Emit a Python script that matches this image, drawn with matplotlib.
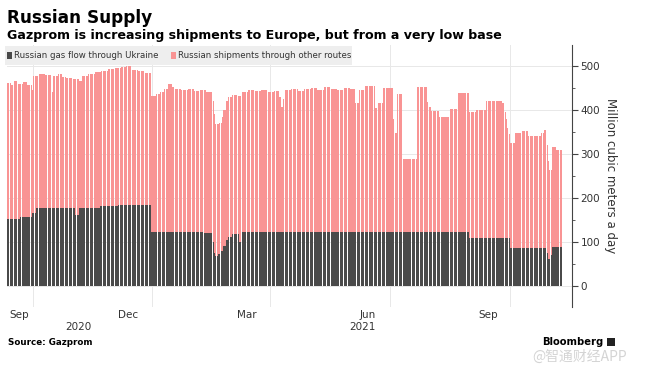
import numpy as np
import pandas as pd
import matplotlib
matplotlib.use("Agg")
import matplotlib.pyplot as plt
import matplotlib.transforms as mtransforms
from matplotlib.patches import Rectangle
from matplotlib.ticker import MultipleLocator

# daily data, stored as runs: level (million m3/day) and number of days it lasts
start_date = "2020-08-13"

ukraine_level = [153, 157, 165, 177, 161, 177, 181, 183,
                 123, 122, 120, 100, 75, 68, 72, 80, 90, 105, 112, 118, 100,
                 122, 123, 122, 109, 86, 75, 62, 70, 89]
ukraine_days = [10, 9, 3, 30, 3, 16, 14, 25,
                20, 20, 7, 1, 1, 2, 2, 2, 2, 2, 3, 5, 2,
                60, 60, 54, 31, 28, 1, 2, 1, 8]

total_level = [462, 458, 465, 460, 463, 457, 445, 478, 482, 479, 441, 478, 482, 476,
               473, 470, 465, 478, 483, 486, 489, 493, 495, 498, 500, 492, 488, 485,
               432, 436, 440, 448, 460, 452, 447, 445, 448, 444, 445, 441,
               420, 390, 368, 370, 385, 400, 420, 430, 434, 432,
               441, 445, 443, 445, 440, 444, 430, 408, 425,
               445, 448, 443, 447, 450, 446, 452, 449, 445, 450, 448,
               415, 445, 455, 405, 415, 450, 380, 348, 436, 289, 453, 418, 408,
               398, 385, 402, 438, 396, 400, 420, 415, 395, 380, 360, 345,
               325, 348, 352, 340, 348, 355, 320, 285, 264, 316, 310]
total_days = [3, 2, 3, 4, 3, 4, 1, 4, 5, 5, 1, 4, 3, 3,
              5, 5, 2, 5, 5, 5, 5, 5, 5, 4, 4, 5, 5, 5,
              4, 3, 3, 3, 3, 2, 5, 5, 5, 4, 5, 5,
              1, 1, 3, 2, 1, 2, 2, 3, 4, 3,
              5, 5, 5, 5, 5, 4, 1, 2, 1,
              5, 5, 5, 5, 5, 5, 5, 5, 5, 5, 4,
              3, 4, 8, 2, 4, 8, 1, 2, 4, 11, 8, 1, 2,
              6, 8, 6, 9, 5, 8, 12, 2, 1, 1, 1, 1,
              4, 5, 5, 10, 2, 2, 1, 1, 2, 3, 5]

month_ticks = ["2020-09-01", "2020-12-01", "2021-03-01", "2021-06-01", "2021-09-01"]
month_names = ["Sep", "Dec", "Mar", "Jun", "Sep"]
month_label_at = ["2020-08-22", "2020-11-13", "2021-02-12", "2021-05-15", "2021-08-15"]
year_names = ["2020", "2021"]
year_label_at = ["2020-10-06", "2021-05-11"]

dates = pd.date_range(start_date, periods=sum(total_days), freq="D")
ukraine = np.repeat(ukraine_level, ukraine_days)
total = np.repeat(total_level, total_days)
other = total - ukraine

dark = "#4a4a4a"
pink = "#f99494"
W, H = 649, 375

fig = plt.figure(figsize=(W / 100, H / 100), dpi=100)
ax = fig.add_axes([7 / W, (H - 307) / H, (572 - 7) / W, 262 / H])

ax.bar(dates, ukraine, width=0.8, color=dark, linewidth=0)
ax.bar(dates, other, bottom=ukraine, width=0.8, color=pink, linewidth=0)

ax.set_xlim(dates[0] - pd.Timedelta(hours=12), dates[0] + pd.Timedelta(days=431))
ax.set_ylim(-48, 548)

# y axis on the right
ax.yaxis.tick_right()
ax.yaxis.set_label_position("right")
ax.set_yticks([0, 100, 200, 300, 400, 500])
ax.yaxis.set_minor_locator(MultipleLocator(50))
ax.tick_params(axis="y", which="major", direction="out", length=4, width=0.8,
               color="#444444", labelcolor="#333333", labelsize=7.5, pad=2)
ax.tick_params(axis="y", which="minor", direction="out", length=2, width=0.6, color="#444444")
ax.set_ylabel("Million cubic meters a day", rotation=270, fontsize=8.5, color="#333333", labelpad=12)

ax.set_xticks(pd.to_datetime(month_ticks))
ax.set_xticklabels([])
ax.tick_params(axis="x", length=0)

ax.grid(axis="y", color="#e8e8e8", linewidth=0.7)
ax.grid(axis="x", color="#e8e8e8", linewidth=0.7)
ax.set_axisbelow(True)
for s in ["top", "left", "bottom"]:
    ax.spines[s].set_visible(False)
ax.spines["right"].set_color("#444444")
ax.spines["right"].set_linewidth(0.8)

# month / year labels under the axis
tr = mtransforms.blended_transform_factory(ax.transData, fig.transFigure)
for d, name in zip(month_label_at, month_names):
    ax.text(pd.Timestamp(d), 1 - 315 / H, name, transform=tr, ha="center", va="center",
            fontsize=7.5, color="#333333")
for d, name in zip(year_label_at, year_names):
    ax.text(pd.Timestamp(d), 1 - 327.5 / H, name, transform=tr, ha="center", va="center",
            fontsize=7.5, color="#333333")

# legend box
def fx(px):
    return px / W


def fy(py):
    return 1 - py / H


fig.add_artist(Rectangle((fx(5), fy(65)), fx(352) - fx(5), fy(46) - fy(65),
                         transform=fig.transFigure, facecolor="#eeeeee", edgecolor="none", zorder=5))
fig.add_artist(Rectangle((fx(7), fy(58.5)), 5 / W, 6 / H, transform=fig.transFigure,
                         facecolor=dark, edgecolor="none", zorder=6))
fig.text(fx(13.5), fy(55.5), "Russian gas flow through Ukraine", fontsize=6.2, color="#333333",
         va="center", zorder=6)
fig.add_artist(Rectangle((fx(171), fy(58.5)), 5 / W, 6 / H, transform=fig.transFigure,
                         facecolor=pink, edgecolor="none", zorder=6))
fig.text(fx(178), fy(55.5), "Russian shipments through other routes", fontsize=6.2, color="#333333",
         va="center", zorder=6)

# titles and footer
fig.text(fx(7), fy(23), "Russian Supply", fontsize=12.2, weight="bold", va="baseline")
fig.text(fx(7), fy(39), "Gazprom is increasing shipments to Europe, but from a very low base",
         fontsize=9.1, weight="bold", va="baseline")
fig.text(fx(8), fy(342.5), "Source: Gazprom", fontsize=6.3, weight="bold", va="center")
fig.text(fx(542), fy(342), "Bloomberg", fontsize=7.2, weight="bold", va="center")
fig.add_artist(Rectangle((fx(607), fy(346)), 8 / W, 8 / H, transform=fig.transFigure,
                         facecolor="#222222", edgecolor="none"))
fig.text(fx(532), fy(356.5), "@智通财经APP", fontsize=10, color="#d4d4d4", va="center",
         family=["Noto Sans CJK SC", "DejaVu Sans"])

fig.savefig("out.png", dpi=100)
